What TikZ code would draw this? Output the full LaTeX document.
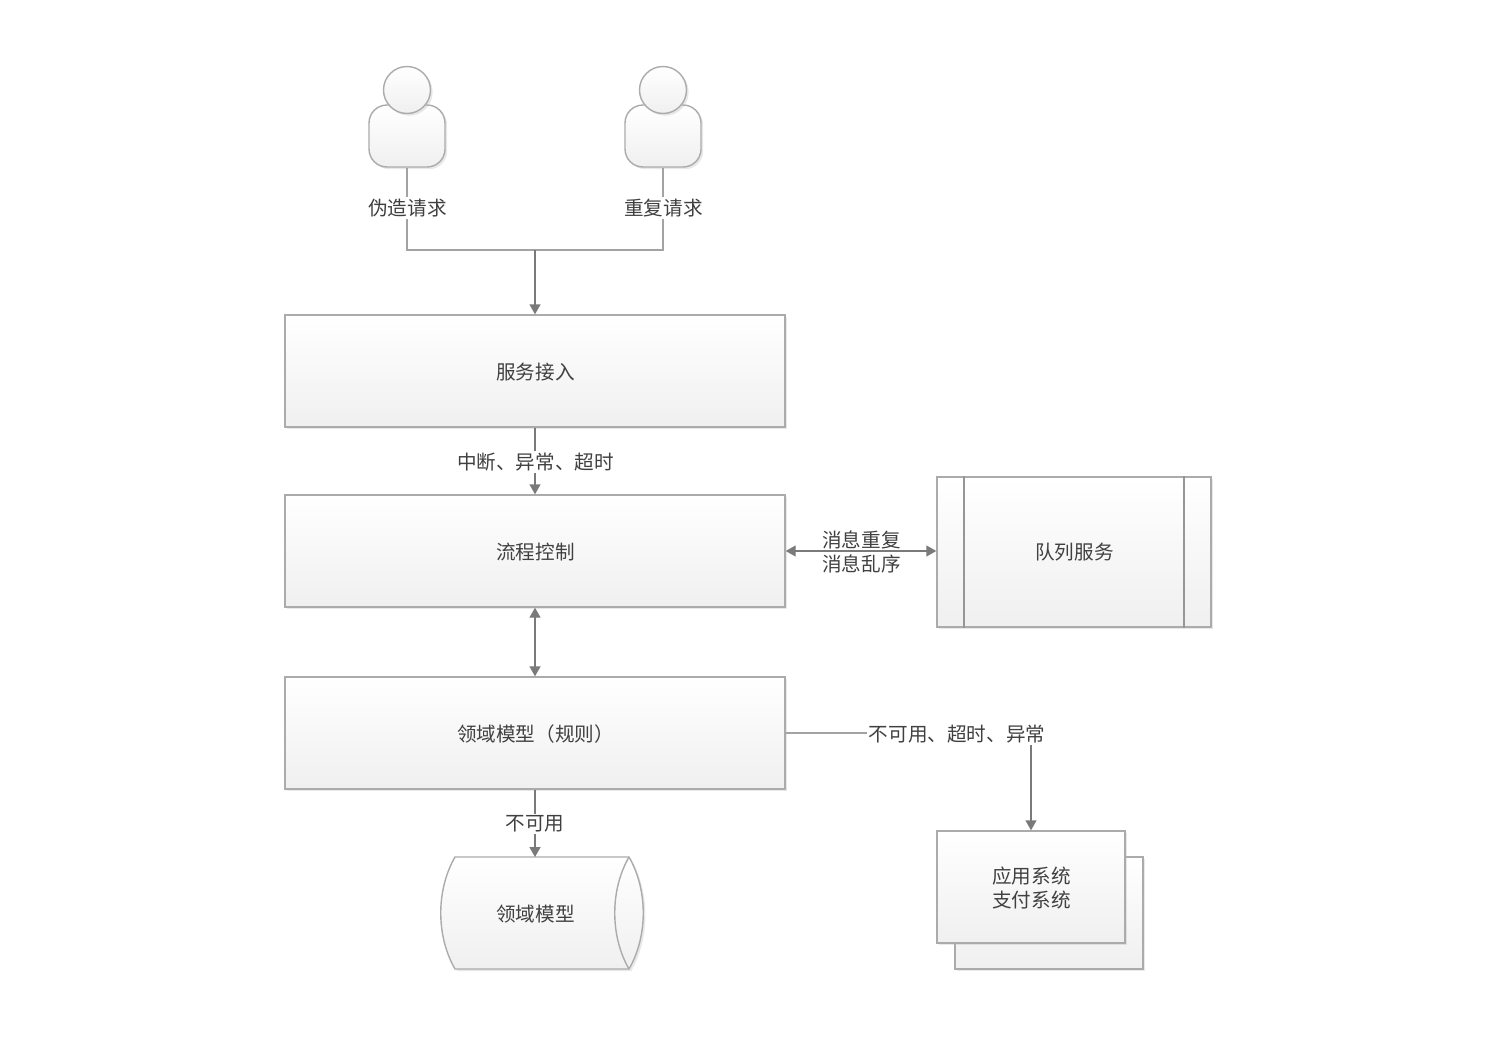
\documentclass[tikz,border=0pt]{standalone}
\usepackage{fontspec}
\setmainfont{Noto Sans CJK SC}
\usetikzlibrary{arrows.meta,shadows,calc}
\definecolor{edgegray}{HTML}{ABABAB}
\definecolor{linegray}{HTML}{A3A3A3}
\definecolor{arrowgray}{HTML}{7A7A7A}
\definecolor{dividergray}{HTML}{969696}
\definecolor{txt}{HTML}{404040}
\tikzset{
  softshadow/.style={drop shadow={shadow xshift=1.1pt,shadow yshift=-1.1pt,fill=black!30,opacity=.3}},
  panel/.style={draw=edgegray,line width=.7pt,top color=white,bottom color=black!6,softshadow,inner sep=0pt},
  processbox/.style={panel,minimum width=250pt,minimum height=56pt},
  caption/.style={text=txt,font=\fontsize{9.8}{12.3}\selectfont,align=center,inner sep=0pt},
  lbl/.style={caption,fill=white,inner sep=1pt},
  link/.style={draw=linegray,line width=.7pt},
  flow/.style={draw=arrowgray,line width=.7pt,-{Triangle[length=5pt,width=5.5pt,fill=arrowgray]}},
  twoway/.style={draw=arrowgray,line width=.7pt,{Triangle[length=5pt,width=5.5pt,fill=arrowgray]}-{Triangle[length=5pt,width=5.5pt,fill=arrowgray]}},
  divider/.style={draw=dividergray,line width=1pt}
}
\begin{document}
\begin{tikzpicture}[x=0.5pt,y=-0.5pt]
\useasboundingbox (0,0) rectangle (1490,1050);
% persons
\node[panel,rounded corners=9pt,minimum width=38pt,minimum height=31pt] (bodyA) at (407,136) {};
\node[panel,circle,minimum size=23.5pt] (headA) at (407,90) {};
\node[panel,rounded corners=9pt,minimum width=38pt,minimum height=31pt] (bodyB) at (663,136) {};
\node[panel,circle,minimum size=23.5pt] (headB) at (663,90) {};
% boxes
\node[processbox] (access) at (535,371) {};
\node[processbox] (control) at (535,551) {};
\node[processbox] (domain) at (535,733) {};
\node[caption] (accessText) at (535.5,372) {服务接入};
\node[caption] (controlText) at (535.5,552) {流程控制};
\node[caption] (domainText) at (535.5,734) {领域模型（规则）};
% queue
\node[panel,minimum width=137pt,minimum height=75pt] (queue) at (1074,552) {};
\node[caption] (queueText) at (1074.5,552) {队列服务};
\draw[divider] ($(queue.north west)+(28,0)$) -- ($(queue.south west)+(28,0)$);
\draw[divider] ($(queue.north east)+(-28,0)$) -- ($(queue.south east)+(-28,0)$);
% stacked systems
\node[panel,minimum width=94pt,minimum height=56pt] (appback) at (1049,913) {};
\node[panel,minimum width=94pt,minimum height=56pt] (app) at (1031,887) {};
\node[caption] (appText) at (1031.5,888) {应用系统\\支付系统};
% drum
\path[draw=edgegray,line width=.7pt,top color=white,bottom color=black!6,softshadow]
  (455,857) -- (629,857) .. controls (648,890) and (648,936) .. (629,969) -- (455,969)
  .. controls (436,936) and (436,890) .. (455,857) -- cycle;
\draw[draw=edgegray,line width=.7pt] (629,857) .. controls (610,890) and (610,936) .. (629,969);
\node[caption] (drum) at (535.5,914) {领域模型};
\coordinate (drumtop) at (535,857);
% connectors
\coordinate (join) at (535,250);
\coordinate (bendA) at (407,250);
\coordinate (bendB) at (663,250);
\coordinate (corner) at (1031,733);
\draw[link] (bodyA.south) -- (bendA) -- (join);
\draw[link] (bodyB.south) -- (bendB) -- (join);
\node[lbl] (lblA) at (407.5,208) {伪造请求};
\node[lbl] (lblB) at (663.5,208) {重复请求};
\draw[flow] (join) -- (access.north);
\draw[flow] (access.south) -- (control.north);
\node[lbl] (lblC) at (535.5,462) {中断、异常、超时};
\draw[twoway] (control.east) -- (control.east -| queue.west);
\node[caption] (lblD) at (861.5,552) {消息重复\\消息乱序};
\draw[twoway] (control.south) -- (domain.north);
\draw[flow] (domain.south) -- (drumtop);
\node[lbl] (lblE) at (535,824) {不可用};
\draw[link] (domain.east) -- (corner);
\draw[flow] (corner) -- (app.north);
\node[lbl] (lblF) at (957,734) {不可用、超时、异常};
\end{tikzpicture}
\end{document}
